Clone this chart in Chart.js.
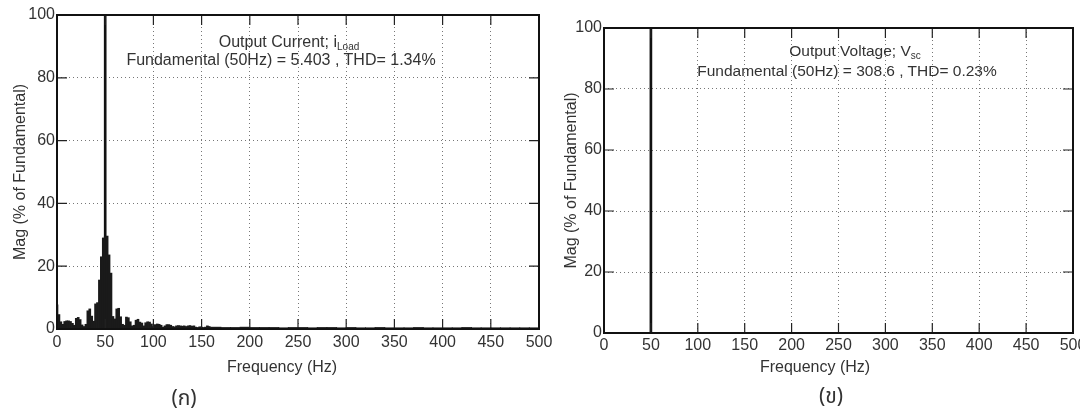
<!DOCTYPE html>
<html lang="th">
<head>
<meta charset="UTF-8">
<title>FFT spectrum</title>
<script src="https://cdn.jsdelivr.net/npm/chart.js@4.4.1/dist/chart.umd.min.js"></script>
<style>
  body { margin: 0; background: #fff; }
  #wrap { position: relative; width: 1080px; height: 416px; overflow: hidden;
          font-family: "Liberation Sans", Arial, sans-serif; color: #333; }
  canvas { position: absolute; top: 0; }
  .txt { position: absolute; white-space: nowrap; transform: translateX(-50%);
         font-size: 16px; line-height: 16px; }
  .txt sub { font-size: 10px; vertical-align: -3px; line-height: 0; }
  .cap { position: absolute; transform: translateX(-50%); font-size: 21px; line-height: 24px;
         font-family: "Noto Sans Thai", "Noto Serif Thai", Loma, Garuda, "DejaVu Sans", sans-serif; color: #333; }
</style>
</head>
<body>
<div id="wrap">
  <canvas id="left" width="560" height="416" style="left:0"></canvas>
  <canvas id="right" width="532" height="416" style="left:548px"></canvas>

  <div class="txt" style="left:289px; top:34px">Output Current; i<sub>Load</sub></div>
  <div class="txt" style="left:281px; top:52px">Fundamental (50Hz) = 5.403 , THD= 1.34%</div>
  <div class="txt" style="left:855px; top:43px; font-size:15.5px">Output Voltage; V<sub>sc</sub></div>
  <div class="txt" style="left:847px; top:63px; font-size:15.5px">Fundamental (50Hz) = 308.6 , THD= 0.23%</div>

  <div class="txt" style="left:282px; top:359px">Frequency (Hz)</div>
  <div class="txt" style="left:815px; top:359px">Frequency (Hz)</div>

  <div class="cap" style="left:184px; top:387px">(ก)</div>
  <div class="cap" style="left:831px; top:385px">(ข)</div>
</div>

<script>
// tick labels
var xTicks = [0, 50, 100, 150, 200, 250, 300, 350, 400, 450, 500];
var yTicks = [0, 20, 40, 60, 80, 100];

// fundamental (both plots), % of fundamental
var fundFreq = [50];
var fundMag = [100];

// output current spectrum, 0-160 Hz
var currFreq = [0, 2, 4, 6, 8, 10, 12, 14, 16, 18, 20, 22, 24, 26, 28, 30, 32, 34, 36, 38,
                40, 42, 44, 46, 48, 50, 52, 54, 56, 58, 60, 62, 64, 66, 68, 70, 72, 74, 76, 78,
                80, 82, 84, 86, 88, 90, 92, 94, 96, 98, 100, 102, 104, 106, 108, 110, 112, 114, 116, 118,
                120, 122, 124, 126, 128, 130, 132, 134, 136, 138, 140, 142, 144, 146, 148, 150, 152, 154, 156, 158, 160];
var currMag = [7.7, 4.6, 2.3, 1.5, 2.4, 2.6, 2.6, 2.4, 1.8, 1.2, 3.4, 3.7, 3.0, 1.3, 0.8, 1.5, 5.8, 6.4, 4.1, 2.5,
               8.0, 8.4, 15.6, 23.0, 29.0, 29.4, 29.6, 23.6, 17.8, 4.0, 3.2, 6.4, 6.6, 3.9, 1.5, 1.2, 3.8, 3.6, 2.3, 1.0,
               1.2, 2.8, 3.1, 2.2, 1.9, 1.0, 2.0, 2.3, 2.2, 1.6, 0.8, 1.4, 1.6, 1.5, 1.2, 0.6, 1.0, 1.4, 1.4, 1.2,
               0.8, 0.7, 1.0, 1.1, 1.0, 0.9, 1.0, 0.8, 1.0, 1.1, 0.9, 1.0, 0.6, 0.5, 0.7, 0.6, 0.5, 0.6, 1.0, 0.8, 0.5];

// output current spectrum, flat tail above 160 Hz
var tailFreq = [165, 175, 185, 195, 205, 215, 225, 235, 245, 255, 265, 275, 285, 295, 305, 315, 325,
                335, 345, 355, 365, 375, 385, 395, 405, 415, 425, 435, 445, 455, 465, 475, 485, 495];
var tailMag = [0.6, 0.5, 0.5, 0.6, 0.5, 0.5, 0.5, 0.4, 0.5, 0.5, 0.4, 0.5, 0.5, 0.4, 0.5, 0.4, 0.4,
               0.5, 0.4, 0.4, 0.4, 0.5, 0.4, 0.4, 0.4, 0.4, 0.5, 0.4, 0.4, 0.4, 0.4, 0.4, 0.4, 0.4];

function pts(xs, ys) {
  return xs.map(function (f, i) { return { x: f, y: ys[i] }; });
}

var FONT = "'Liberation Sans', Arial, sans-serif";

// MATLAB style box with inward ticks on all four sides
var boxPlugin = {
  id: 'box',
  afterDatasetsDraw: function (chart) {
    var ctx = chart.ctx, a = chart.chartArea;
    var x = chart.scales.x, y = chart.scales.y;
    ctx.save();
    ctx.strokeStyle = '#222';
    ctx.lineWidth = 1.2;
    ctx.beginPath();
    x.ticks.forEach(function (t) {
      var p = x.getPixelForValue(t.value);
      ctx.moveTo(p, a.bottom); ctx.lineTo(p, a.bottom - 10);
      ctx.moveTo(p, a.top); ctx.lineTo(p, a.top + 10);
    });
    y.ticks.forEach(function (t) {
      var p = y.getPixelForValue(t.value);
      ctx.moveTo(a.left, p); ctx.lineTo(a.left + 10, p);
      ctx.moveTo(a.right, p); ctx.lineTo(a.right - 10, p);
    });
    ctx.stroke();
    ctx.strokeStyle = '#111';
    ctx.lineWidth = 2;
    ctx.strokeRect(a.left, a.top, a.right - a.left, a.bottom - a.top);
    ctx.restore();
  }
};

function makeChart(id, datasets, pad, yWidth, xPad) {
  return new Chart(document.getElementById(id), {
    type: 'bar',
    data: { datasets: datasets },
    options: {
      responsive: false,
      animation: false,
      layout: { padding: pad },
      plugins: { legend: { display: false }, tooltip: { enabled: false } },
      scales: {
        x: {
          type: 'linear', min: 0, max: 500, offset: false,
          afterBuildTicks: function (s) { s.ticks = xTicks.map(function (v) { return { value: v }; }); },
          afterFit: function (s) { s.height = 30; s.paddingLeft = 0; s.paddingRight = 0; },
          grid: { color: '#777', lineWidth: 1, drawTicks: false, offset: false },
          border: { display: false, dash: [1, 3] },
          ticks: { color: '#333', font: { family: FONT, size: 16 }, padding: xPad,
                   maxRotation: 0, autoSkip: false }
        },
        y: {
          min: 0, max: 100,
          afterBuildTicks: function (s) { s.ticks = yTicks.map(function (v) { return { value: v }; }); },
          afterFit: function (s) { s.width = yWidth; s.paddingTop = 0; s.paddingBottom = 0; },
          grid: { color: '#777', lineWidth: 1, drawTicks: false },
          border: { display: false, dash: [1, 3] },
          ticks: { color: '#333', font: { family: FONT, size: 16 }, padding: 2 },
          title: { display: true, text: 'Mag (% of Fundamental)', color: '#333',
                   font: { family: FONT, size: 16 }, padding: 0 }
        }
      }
    },
    plugins: [boxPlugin]
  });
}

// (ก) output current
makeChart('left', [
  { data: pts(currFreq, currMag), backgroundColor: '#1a1a1a', barThickness: 2, grouped: false },
  { data: pts(tailFreq, tailMag), backgroundColor: '#1a1a1a', barThickness: 10, grouped: false },
  { data: pts(fundFreq, fundMag), backgroundColor: '#111', barThickness: 2, grouped: false }
], { left: 11, right: 21, top: 15, bottom: 57 }, 46, 4);

// (ข) output voltage
makeChart('right', [
  { data: pts(fundFreq, fundMag), backgroundColor: '#111', barThickness: 2, grouped: false }
], { left: 14, right: 7, top: 28, bottom: 53 }, 42, 3);
</script>
</body>
</html>
